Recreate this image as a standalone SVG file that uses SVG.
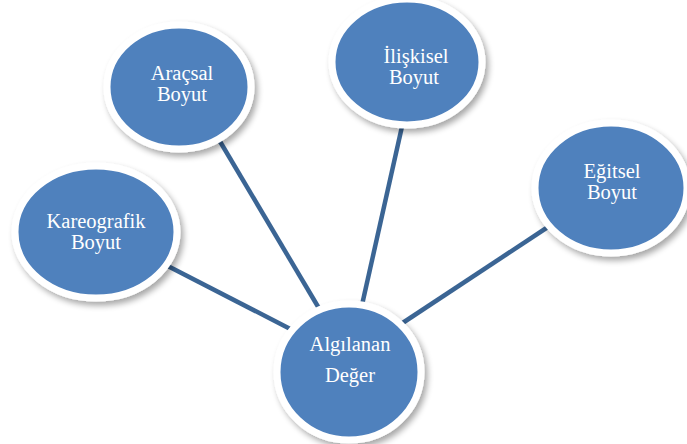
<svg xmlns="http://www.w3.org/2000/svg" width="687" height="444" viewBox="0 0 687 444">
<defs>
<filter id="sh" x="-20%" y="-20%" width="150%" height="150%">
<feGaussianBlur in="SourceAlpha" stdDeviation="3"/>
<feOffset dx="3" dy="4" result="b"/>
<feComponentTransfer><feFuncA type="linear" slope="0.35"/></feComponentTransfer>
<feMerge><feMergeNode/><feMergeNode in="SourceGraphic"/></feMerge>
</filter>
<style>
.n{fill:#4f81bd;stroke:#ffffff;stroke-width:7;filter:url(#sh)}
.t{font-family:"Liberation Serif","Times New Roman",serif;font-size:20.5px;fill:#ffffff;text-anchor:middle}
.c{stroke:#3b6594;stroke-width:4.5;fill:none}
</style>
</defs>
<rect width="687" height="444" fill="#ffffff"/>
<g id="connectors">
<line class="c" x1="160" y1="262" x2="300" y2="334"/>
<line class="c" x1="215" y1="133" x2="320" y2="310"/>
<line class="c" x1="403" y1="122" x2="362" y2="305"/>
<line class="c" x1="560" y1="219" x2="398" y2="326"/>
</g>
<g id="node-kareografik">
<ellipse class="n" cx="96" cy="232" rx="81" ry="66"/>
<text class="t" x="96" y="228">Kareografik</text>
<text class="t" x="96" y="249">Boyut</text>
</g>
<g id="node-aracsal">
<ellipse class="n" cx="179" cy="87" rx="72" ry="62"/>
<text class="t" x="182" y="80">Araçsal</text>
<text class="t" x="182" y="101">Boyut</text>
</g>
<g id="node-iliskisel">
<ellipse class="n" cx="407" cy="62" rx="75" ry="63"/>
<text class="t" x="416" y="63">İlişkisel</text>
<text class="t" x="414" y="84">Boyut</text>
</g>
<g id="node-egitsel">
<ellipse class="n" cx="611" cy="188" rx="76" ry="65"/>
<text class="t" x="612" y="178">Eğitsel</text>
<text class="t" x="612" y="199">Boyut</text>
</g>
<g id="node-algilanan">
<ellipse class="n" cx="349" cy="372" rx="72" ry="68"/>
<text class="t" x="350" y="351">Algılanan</text>
<text class="t" x="350" y="382">Değer</text>
</g>
</svg>
